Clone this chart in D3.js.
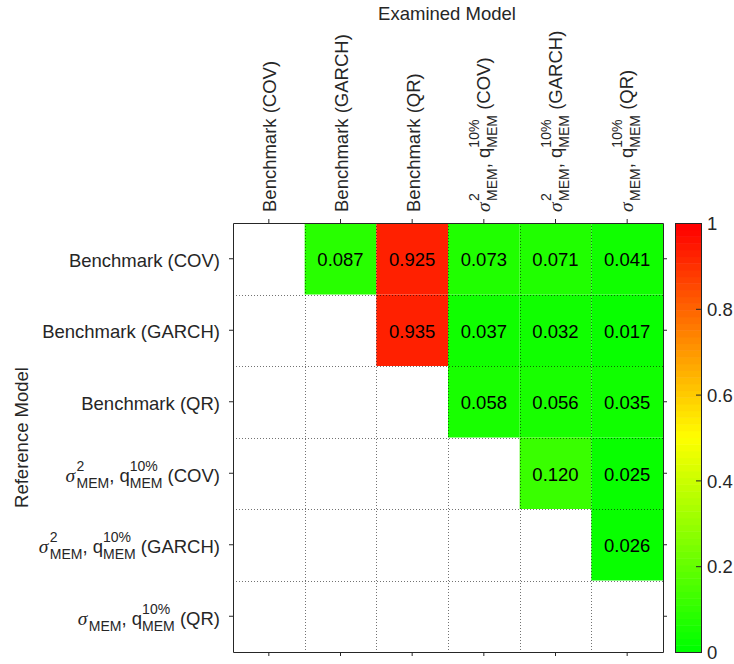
<!DOCTYPE html>
<html>
<head>
<meta charset="utf-8">
<script src="https://cdn.jsdelivr.net/npm/d3@7"></script>
<style>
  html, body { margin: 0; padding: 0; background: #fff; }
  svg { display: block; }
</style>
</head>
<body>
<svg id="chart" width="734" height="664"></svg>
<script>
// ---------------- DATA ----------------
const modelLabels = [
  "Benchmark (COV)",
  "Benchmark (GARCH)",
  "Benchmark (QR)",
  "σ^{2}_{MEM}, q^{10%}_{MEM} (COV)",
  "σ^{2}_{MEM}, q^{10%}_{MEM} (GARCH)",
  "σ_{MEM}, q^{10%}_{MEM} (QR)"
];
const row1 = [null, 0.087, 0.925, 0.073, 0.071, 0.041];
const row2 = [null, null, 0.935, 0.037, 0.032, 0.017];
const row3 = [null, null, null, 0.058, 0.056, 0.035];
const row4 = [null, null, null, null, 0.120, 0.025];
const row5 = [null, null, null, null, null, 0.026];
const row6 = [null, null, null, null, null, null];
const matrix = [row1, row2, row3, row4, row5, row6];
const colorbarTicks = [0, 0.2, 0.4, 0.6, 0.8, 1];
const xTitle = "Examined Model";
const yTitle = "Reference Model";

// ---------------- LAYOUT ----------------
const L = 233, R = 663, T = 223, B = 652;
const FONT = "'Liberation Sans', Arial, Helvetica, sans-serif";
const SERIF = "'Liberation Serif', 'Times New Roman', serif";
const AX = "#262626";
const FS = 18.5, SFS = 14;
const NC = 64;

const svg = d3.select("#chart");
const idx = d3.range(modelLabels.length);
const x = d3.scaleBand().domain(idx).range([L, R]);
const y = d3.scaleBand().domain(idx).range([T, B]);

const cmap = d3.scaleLinear().domain([0, 0.5, 1]).range(["#00ff00", "#ffff00", "#ff0000"]);
const qcolor = v => cmap(Math.min(NC - 1, Math.floor(v * NC)) / (NC - 1));

// cells
const cells = [];
matrix.forEach((row, i) => row.forEach((v, j) => { if (v !== null) cells.push({ i, j, v }); }));

svg.append("g").selectAll("rect").data(cells).join("rect")
  .attr("x", d => x(d.j)).attr("y", d => y(d.i))
  .attr("width", x.bandwidth()).attr("height", y.bandwidth())
  .attr("fill", d => qcolor(d.v));

// grid (dotted at cell boundaries)
const grid = svg.append("g").attr("stroke", "#000").attr("stroke-opacity", 0.55)
  .attr("stroke-dasharray", "1,2").attr("stroke-width", 1);
d3.range(1, modelLabels.length).forEach(k => {
  const gx = Math.round(x(k)) + 0.5, gy = Math.round(y(k)) + 0.5;
  grid.append("line").attr("x1", gx).attr("x2", gx).attr("y1", T).attr("y2", B);
  grid.append("line").attr("x1", L).attr("x2", R).attr("y1", gy).attr("y2", gy);
});

// cell values
svg.append("g").selectAll("text").data(cells).join("text")
  .attr("x", d => x(d.j) + x.bandwidth() / 2)
  .attr("y", d => y(d.i) + y.bandwidth() / 2 + 7.5)
  .attr("text-anchor", "middle")
  .attr("font-family", FONT).attr("font-size", FS).attr("fill", "#000")
  .text(d => d3.format(".3f")(d.v));

// axes (ticks outward, no labels)
function styleAxis(g) {
  g.selectAll("path, line").attr("stroke", AX);
  g.selectAll("text").remove();
}
svg.append("g").attr("transform", `translate(0,${T})`)
  .call(d3.axisTop(x).tickSizeInner(4).tickSizeOuter(0).tickFormat(() => "")).call(styleAxis);
svg.append("g").attr("transform", `translate(0,${B})`)
  .call(d3.axisBottom(x).tickSizeInner(4).tickSizeOuter(0).tickFormat(() => "")).call(styleAxis);
svg.append("g").attr("transform", `translate(${L},0)`)
  .call(d3.axisLeft(y).tickSizeInner(4).tickSizeOuter(0).tickFormat(() => "")).call(styleAxis);
svg.append("g").attr("transform", `translate(${R},0)`)
  .call(d3.axisRight(y).tickSizeInner(4).tickSizeOuter(0).tickFormat(() => "")).call(styleAxis);

// ------------- rich (TeX-like) labels -------------
function parseLabel(s) {
  const re = /(\^\{([^}]*)\})|(_\{([^}]*)\})/g;
  const tokens = [];
  let last = 0, m;
  while ((m = re.exec(s))) {
    if (m.index > last) tokens.push({ t: s.slice(last, m.index) });
    const prev = tokens[tokens.length - 1];
    if (prev && prev.script && m.index === last) {
      if (m[2] !== undefined) prev.sup = m[2]; else prev.sub = m[4];
    } else {
      tokens.push({ script: true, sup: m[2], sub: m[4] });
    }
    last = re.lastIndex;
  }
  if (last < s.length) tokens.push({ t: s.slice(last) });
  const out = [];
  tokens.forEach(tk => {
    if (tk.script) { out.push(tk); return; }
    tk.t.split(/(σ)/).forEach(p => { if (p) out.push({ t: p, greek: p === "σ" }); });
  });
  return out;
}

function drawRich(g, label, supShift, subShift) {
  const tokens = parseLabel(label);
  let cur = 0;
  const isRich = tokens.some(t => t.script);
  tokens.forEach(tk => {
    if (!tk.script) {
      const t = g.append("text").attr("x", cur).attr("y", 0)
        .attr("font-family", tk.greek ? SERIF : FONT)
        .attr("font-style", tk.greek ? "italic" : "normal")
        .attr("font-size", tk.greek ? FS + 1 : FS).attr("fill", AX)
        .text(tk.t.replace(/ /g, "\u00A0"));
      cur += t.node().getComputedTextLength() + (tk.greek ? 1.5 : 0);
    } else {
      let w = 0;
      if (tk.sup !== undefined) {
        const s = g.append("text").attr("x", cur).attr("y", supShift)
          .attr("font-family", FONT).attr("font-size", SFS).attr("fill", AX).text(tk.sup);
        w = Math.max(w, s.node().getComputedTextLength());
      }
      if (tk.sub !== undefined) {
        const s = g.append("text").attr("x", cur).attr("y", subShift)
          .attr("font-family", FONT).attr("font-size", SFS).attr("fill", AX).text(tk.sub);
        w = Math.max(w, s.node().getComputedTextLength());
      }
      cur += w;
    }
  });
  return { width: cur, rich: isRich };
}

// left labels (right-aligned at x=220)
modelLabels.forEach((lab, i) => {
  const g = svg.append("g");
  const info = drawRich(g, lab, -11, 6);
  const cy = y(i) + y.bandwidth() / 2;
  const base = cy + (info.rich ? 8.5 : 7.8);
  g.attr("transform", `translate(${220 - info.width},${base})`);
});

// top labels (rotated, starting at y=212)
modelLabels.forEach((lab, j) => {
  const g = svg.append("g");
  const info = drawRich(g, lab, -11, 7);
  const cx = x(j) + x.bandwidth() / 2;
  const base = cx + (info.rich ? 6 : 7.5);
  g.attr("transform", `translate(${base},212) rotate(-90)`);
});

// titles
svg.append("text").attr("x", (L + R) / 2 - 1).attr("y", 20)
  .attr("text-anchor", "middle").attr("font-family", FONT).attr("font-size", FS)
  .attr("fill", AX).text(xTitle);
svg.append("text").attr("transform", `translate(28,${(T + B) / 2}) rotate(-90)`)
  .attr("text-anchor", "middle").attr("font-family", FONT).attr("font-size", FS)
  .attr("fill", AX).text(yTitle);

// ---------------- colorbar ----------------
const CBL = 675, CBR = 701;
const cy = d3.scaleLinear().domain([0, 1]).range([B, T]);
const cb = svg.append("g");
cb.selectAll("rect").data(d3.range(NC)).join("rect")
  .attr("x", CBL).attr("width", CBR - CBL)
  .attr("y", i => cy((i + 1) / NC)).attr("height", i => cy(i / NC) - cy((i + 1) / NC) + 0.5)
  .attr("fill", i => cmap(i / (NC - 1)));
cb.append("rect").attr("x", CBL + 0.5).attr("y", T + 0.5)
  .attr("width", CBR - CBL).attr("height", B - T)
  .attr("fill", "none").attr("stroke", AX);
const cbAxis = svg.append("g").attr("transform", `translate(${CBR},0)`)
  .call(d3.axisRight(cy).tickValues(colorbarTicks).tickSizeInner(-5).tickSizeOuter(0)
    .tickPadding(6).tickFormat(d3.format("")));
cbAxis.select(".domain").remove();
cbAxis.selectAll("line").attr("stroke", AX);
cbAxis.selectAll("text").attr("font-family", FONT).attr("font-size", FS).attr("fill", AX)
  .attr("dy", "0.36em");
</script>
</body>
</html>
